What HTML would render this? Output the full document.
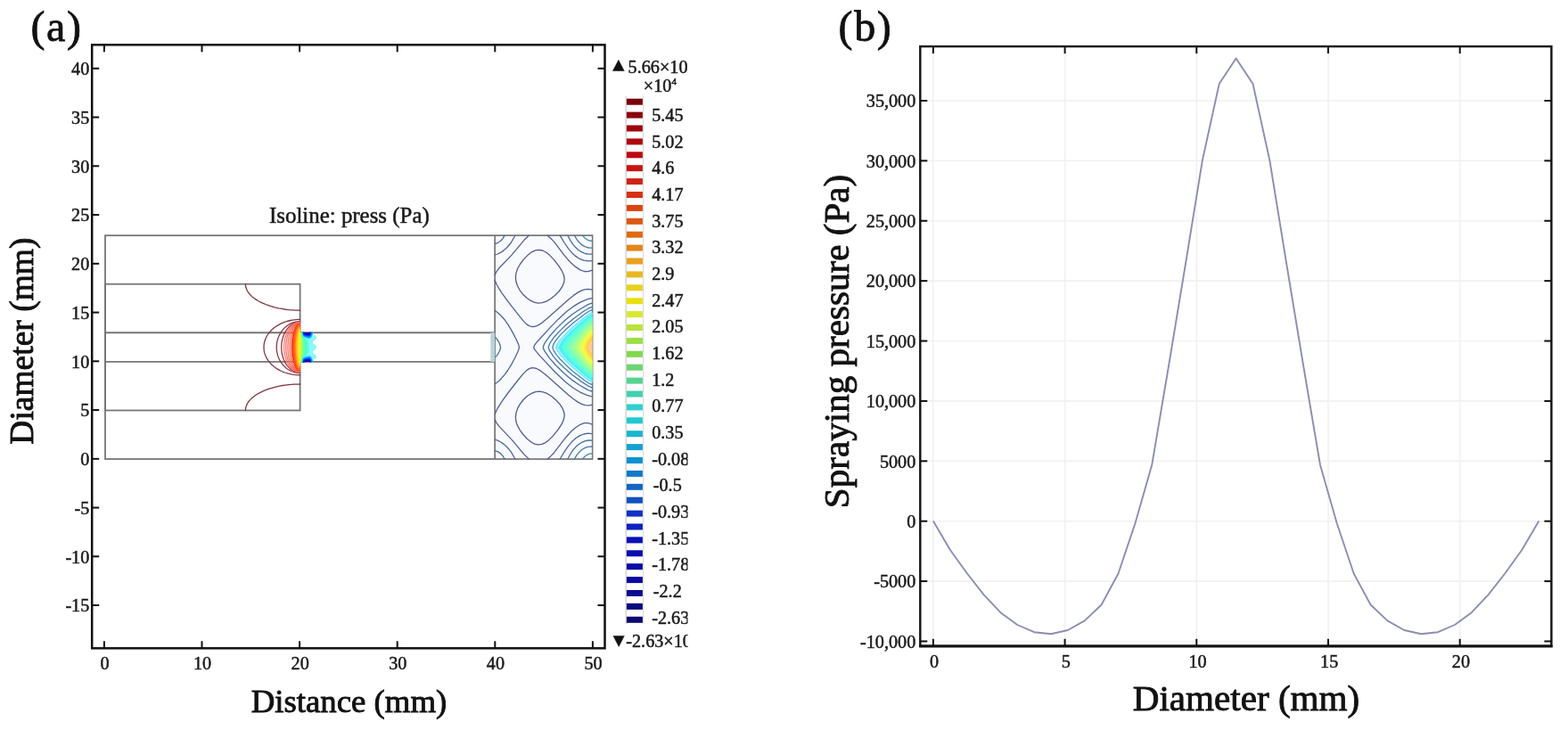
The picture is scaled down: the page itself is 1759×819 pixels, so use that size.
<!DOCTYPE html>
<html><head><meta charset="utf-8"><title>Pressure figure</title>
<style>html,body{margin:0;padding:0;background:#fff;}svg{display:block;}</style></head>
<body><svg width="1759" height="819" viewBox="0 0 1759 819">
<rect width="1759" height="819" fill="#fff"/>
<g stroke="#111" fill="none">
<rect x="103.2" y="50.3" width="575.3" height="677" stroke-width="2.5"/>
<line x1="116.9" y1="727.3" x2="116.9" y2="719.3" stroke-width="2"/>
<line x1="116.9" y1="50.3" x2="116.9" y2="58.3" stroke-width="2"/>
<line x1="226.5" y1="727.3" x2="226.5" y2="719.3" stroke-width="2"/>
<line x1="226.5" y1="50.3" x2="226.5" y2="58.3" stroke-width="2"/>
<line x1="336.1" y1="727.3" x2="336.1" y2="719.3" stroke-width="2"/>
<line x1="336.1" y1="50.3" x2="336.1" y2="58.3" stroke-width="2"/>
<line x1="445.7" y1="727.3" x2="445.7" y2="719.3" stroke-width="2"/>
<line x1="445.7" y1="50.3" x2="445.7" y2="58.3" stroke-width="2"/>
<line x1="555.3" y1="727.3" x2="555.3" y2="719.3" stroke-width="2"/>
<line x1="555.3" y1="50.3" x2="555.3" y2="58.3" stroke-width="2"/>
<line x1="664.9" y1="727.3" x2="664.9" y2="719.3" stroke-width="2"/>
<line x1="664.9" y1="50.3" x2="664.9" y2="58.3" stroke-width="2"/>
<line x1="103.2" y1="679.05" x2="111.2" y2="679.05" stroke-width="2"/>
<line x1="678.5" y1="679.05" x2="670.5" y2="679.05" stroke-width="2"/>
<line x1="103.2" y1="624.3" x2="111.2" y2="624.3" stroke-width="2"/>
<line x1="678.5" y1="624.3" x2="670.5" y2="624.3" stroke-width="2"/>
<line x1="103.2" y1="569.55" x2="111.2" y2="569.55" stroke-width="2"/>
<line x1="678.5" y1="569.55" x2="670.5" y2="569.55" stroke-width="2"/>
<line x1="103.2" y1="514.8" x2="111.2" y2="514.8" stroke-width="2"/>
<line x1="678.5" y1="514.8" x2="670.5" y2="514.8" stroke-width="2"/>
<line x1="103.2" y1="460.05" x2="111.2" y2="460.05" stroke-width="2"/>
<line x1="678.5" y1="460.05" x2="670.5" y2="460.05" stroke-width="2"/>
<line x1="103.2" y1="405.3" x2="111.2" y2="405.3" stroke-width="2"/>
<line x1="678.5" y1="405.3" x2="670.5" y2="405.3" stroke-width="2"/>
<line x1="103.2" y1="350.55" x2="111.2" y2="350.55" stroke-width="2"/>
<line x1="678.5" y1="350.55" x2="670.5" y2="350.55" stroke-width="2"/>
<line x1="103.2" y1="295.8" x2="111.2" y2="295.8" stroke-width="2"/>
<line x1="678.5" y1="295.8" x2="670.5" y2="295.8" stroke-width="2"/>
<line x1="103.2" y1="241.05" x2="111.2" y2="241.05" stroke-width="2"/>
<line x1="678.5" y1="241.05" x2="670.5" y2="241.05" stroke-width="2"/>
<line x1="103.2" y1="186.3" x2="111.2" y2="186.3" stroke-width="2"/>
<line x1="678.5" y1="186.3" x2="670.5" y2="186.3" stroke-width="2"/>
<line x1="103.2" y1="131.55" x2="111.2" y2="131.55" stroke-width="2"/>
<line x1="678.5" y1="131.55" x2="670.5" y2="131.55" stroke-width="2"/>
<line x1="103.2" y1="76.8" x2="111.2" y2="76.8" stroke-width="2"/>
<line x1="678.5" y1="76.8" x2="670.5" y2="76.8" stroke-width="2"/>
</g>
<g font-family="'Liberation Serif','Times New Roman',serif" font-size="20.2" fill="#1a1a1a" stroke="#1a1a1a" stroke-width="0.5">
<text x="117.5" y="750.8" text-anchor="middle">0</text>
<text x="227.1" y="750.8" text-anchor="middle">10</text>
<text x="336.7" y="750.8" text-anchor="middle">20</text>
<text x="446.3" y="750.8" text-anchor="middle">30</text>
<text x="555.9" y="750.8" text-anchor="middle">40</text>
<text x="665.5" y="750.8" text-anchor="middle">50</text>
<text x="100.3" y="686.25" text-anchor="end">-15</text>
<text x="100.3" y="631.5" text-anchor="end">-10</text>
<text x="100.3" y="576.75" text-anchor="end">-5</text>
<text x="100.3" y="522" text-anchor="end">0</text>
<text x="100.3" y="467.25" text-anchor="end">5</text>
<text x="100.3" y="412.5" text-anchor="end">10</text>
<text x="100.3" y="357.75" text-anchor="end">15</text>
<text x="100.3" y="303" text-anchor="end">20</text>
<text x="100.3" y="248.25" text-anchor="end">25</text>
<text x="100.3" y="193.5" text-anchor="end">30</text>
<text x="100.3" y="138.75" text-anchor="end">35</text>
<text x="100.3" y="84" text-anchor="end">40</text>
</g>
<text font-family="'Liberation Serif','Times New Roman',serif" font-size="36.8" x="391.5" y="798.9" text-anchor="middle" fill="#111" stroke="#111" stroke-width="0.9">Distance (mm)</text>
<text font-family="'Liberation Serif','Times New Roman',serif" font-size="37.5" transform="translate(36.8 382.6) rotate(-90)" text-anchor="middle" fill="#111" stroke="#111" stroke-width="0.9">Diameter (mm)</text>
<text font-family="'Liberation Serif','Times New Roman',serif" font-size="48" letter-spacing="1.6" x="34.5" y="46" fill="#111" stroke="#111" stroke-width="0.8">(a)</text>
<text font-family="'Liberation Serif','Times New Roman',serif" font-size="24.9" x="302" y="250" fill="#1a1a1a" stroke="#1a1a1a" stroke-width="0.5">Isoline: press (Pa)</text>
<g stroke="#767676" stroke-width="1.8" fill="none">
<rect x="118" y="264.19" width="546.5" height="250.81"/>
<rect x="118" y="318.71" width="218.6" height="141.76"/>
<line x1="118" y1="373.24" x2="555.2" y2="373.24"/>
<line x1="118" y1="405.95" x2="555.2" y2="405.95"/>
<line x1="555.2" y1="515" x2="555.2" y2="264.19"/>
</g>
<g stroke-linejoin="round" stroke-linecap="round"><rect x="556.1" y="265.1" width="107.5" height="249.0" fill="#f8fafd"/>
<path d="M663.8,428.6 664.5,428.8 664.5,426.3 661.4,424.9 656.6,421.3 642.7,409.0 635.6,402.0 632.2,398.1 629.6,394.6 627.9,391.6 627.4,389.4 628.3,386.8 630.2,383.7 636.4,376.3 643.1,369.7 657.1,357.5 661.4,354.2 664.5,352.8 664.5,350.4 661.4,351.7 657.1,354.8 643.6,365.8 637.4,371.5 631.8,377.2 627.7,382.0 625.1,385.9 623.7,389.4 624.7,392.4 627.1,396.4 631.0,401.2 636.0,406.4 643.1,412.9 656.2,423.7 660.6,427.0 663.8,428.6Z" fill="#99eeff" stroke="#99eeff" stroke-width="0.3" fill-rule="evenodd"/>
<path d="M663.4,426.0 664.5,426.3 664.5,424.1 661.4,422.6 657.5,419.5 643.3,406.4 637.8,400.7 632.7,394.2 631.1,391.1 630.7,389.4 631.5,387.2 633.3,384.1 639.0,377.2 643.8,372.4 657.5,359.7 661.9,356.3 664.5,355.1 664.5,352.8 661.9,354.0 657.9,356.8 639.4,373.2 634.8,378.0 631.2,382.4 628.6,386.3 627.4,389.4 628.1,392.0 630.2,395.5 633.3,399.4 637.7,404.2 643.5,409.8 656.6,421.2 660.6,424.4 663.4,426.0Z" fill="#4bf2f5" stroke="#4bf2f5" stroke-width="0.3" fill-rule="evenodd"/>
<path d="M663.6,423.8 664.5,424.1 664.5,422.1 661.9,420.8 657.6,417.3 644.6,404.6 640.1,399.8 635.6,393.7 634.2,391.1 633.8,389.4 634.6,387.2 636.1,384.6 641.3,378.0 658.1,361.5 661.9,358.4 664.5,357.1 664.5,355.1 661.9,356.3 658.4,358.9 641.5,374.5 637.1,379.3 633.9,383.3 631.7,386.8 630.7,389.4 631.3,391.6 633.3,395.0 639.9,402.9 657.1,419.1 660.7,422.1 663.6,423.8Z" fill="#5cffe5" stroke="#5cffe5" stroke-width="0.3" fill-rule="evenodd"/>
<path d="M663.3,421.7 664.5,422.1 664.5,420.1 661.9,418.8 658.4,415.9 644.1,401.2 638.6,394.2 637.0,391.1 636.6,389.4 638.6,385.0 642.9,379.3 658.0,363.6 661.9,360.4 664.5,359.0 664.5,357.1 661.9,358.4 658.4,361.2 642.9,376.3 636.7,383.7 634.8,386.8 633.8,389.4 634.2,391.1 635.8,394.2 641.7,401.6 657.1,416.9 660.6,419.8 663.3,421.7Z" fill="#6cffd4" stroke="#6cffd4" stroke-width="0.3" fill-rule="evenodd"/>
<path d="M663.8,419.9 664.5,420.1 664.5,418.3 661.9,416.9 657.9,413.4 644.1,398.1 640.5,392.9 639.5,390.7 639.2,389.4 641.0,385.4 644.8,380.2 658.3,365.4 661.9,362.3 664.5,360.9 664.5,359.0 661.9,360.4 658.4,363.3 644.5,377.6 639.2,384.1 637.4,387.2 636.6,389.4 637.0,391.1 638.6,394.2 643.7,400.7 657.6,415.1 661.0,418.2 663.8,419.9Z" fill="#7affc7" stroke="#7affc7" stroke-width="0.3" fill-rule="evenodd"/>
<path d="M664.0,418.2 664.5,418.3 664.5,416.5 661.9,415.1 658.1,411.6 646.4,398.1 642.9,392.9 641.9,390.7 641.6,389.4 643.4,385.4 647.1,380.2 658.4,367.3 661.9,364.1 664.5,362.6 664.5,360.9 662.3,362.0 658.8,364.9 647.0,377.6 641.8,384.1 640.0,387.2 639.2,389.4 639.6,391.1 641.0,393.7 645.9,400.3 657.9,413.4 661.4,416.6 664.0,418.2Z" fill="#8affb6" stroke="#8affb6" stroke-width="0.3" fill-rule="evenodd"/>
<path d="M664.1,416.4 664.5,416.5 664.5,414.8 661.9,413.3 658.4,410.0 648.6,398.1 645.2,392.9 644.2,390.7 643.9,389.4 645.7,385.4 649.9,379.3 658.8,368.7 662.3,365.5 664.5,364.4 664.5,362.6 662.8,363.5 659.9,365.8 652.6,373.7 644.5,383.7 642.7,386.8 641.6,389.4 642.1,391.1 643.4,393.7 648.6,400.7 658.4,411.9 661.4,414.7 664.1,416.4Z" fill="#98ffa8" stroke="#98ffa8" stroke-width="0.3" fill-rule="evenodd"/>
<path d="M664.0,414.7 664.5,414.8 664.5,413.1 662.3,411.9 659.2,409.0 655.4,404.6 650.8,398.5 647.3,392.9 646.1,389.4 648.0,385.0 652.4,378.5 659.7,369.7 662.3,367.3 664.5,366.0 664.5,364.4 662.8,365.2 660.4,367.1 654.1,374.1 646.7,383.7 644.9,386.8 643.9,389.4 644.3,391.1 645.9,394.2 652.0,402.5 659.3,410.9 661.9,413.3 664.0,414.7Z" fill="#a8ff98" stroke="#a8ff98" stroke-width="0.3" fill-rule="evenodd"/>
<path d="M663.9,412.9 664.5,413.1 664.5,411.5 662.3,410.2 659.7,407.7 656.4,403.8 652.6,398.5 649.2,392.9 648.1,389.4 649.9,385.0 653.8,378.9 660.1,371.1 662.8,368.7 664.5,367.7 664.5,366.0 662.8,366.9 660.6,368.8 655.1,375.0 648.5,384.1 646.8,387.2 646.1,389.4 646.5,391.1 648.0,394.2 653.4,402.0 659.6,409.4 661.9,411.6 663.9,412.9Z" fill="#b6ff8a" stroke="#b6ff8a" stroke-width="0.3" fill-rule="evenodd"/>
<path d="M663.8,411.2 664.5,411.5 664.5,409.8 663.2,409.1 661.0,407.2 656.0,401.2 651.6,394.2 650.3,391.1 649.9,389.4 651.4,385.4 654.8,379.8 660.2,372.8 662.8,370.4 664.5,369.4 664.5,367.7 663.2,368.3 661.0,370.2 655.7,376.3 650.4,384.1 648.8,387.2 648.1,389.4 648.5,391.1 649.7,393.7 654.4,401.2 659.7,407.7 661.9,409.8 663.8,411.2Z" fill="#c7ff7a" stroke="#c7ff7a" stroke-width="0.3" fill-rule="evenodd"/>
<path d="M663.7,409.4 664.5,409.8 664.5,408.1 663.2,407.4 661.1,405.5 656.9,400.3 653.0,393.7 652.0,391.1 651.6,389.4 653.0,385.4 655.8,380.7 660.6,374.2 662.8,372.1 664.5,371.1 664.5,369.4 663.2,370.1 661.0,371.9 656.3,377.6 651.9,384.6 649.9,389.4 650.3,391.1 651.4,393.7 655.4,400.3 660.1,406.3 663.7,409.4Z" fill="#d4ff6c" stroke="#d4ff6c" stroke-width="0.3" fill-rule="evenodd"/>
<path d="M663.7,407.7 664.5,408.1 664.5,406.3 663.2,405.6 661.4,404.0 657.6,399.0 654.4,393.3 653.2,389.4 654.4,385.9 656.7,381.5 661.0,375.7 663.1,373.7 664.5,372.9 664.5,371.1 663.2,371.8 661.4,373.3 657.2,378.5 653.5,384.6 651.6,389.4 652.8,393.3 656.0,399.0 660.1,404.4 663.7,407.7Z" fill="#e5ff5c" stroke="#e5ff5c" stroke-width="0.3" fill-rule="evenodd"/>
<path d="M663.8,405.9 664.5,406.3 664.5,404.4 661.9,402.4 658.5,398.1 655.9,393.3 654.8,389.4 655.7,386.3 657.7,382.4 661.4,377.2 663.2,375.5 664.5,374.8 664.5,372.9 663.2,373.6 661.4,375.2 657.9,379.6 654.8,385.0 653.2,389.4 654.2,392.9 657.1,398.2 660.6,403.0 663.8,405.9Z" fill="#f5fd4b" stroke="#f5fd4b" stroke-width="0.3" fill-rule="evenodd"/>
<path d="M664.0,404.2 664.5,404.4 664.5,402.4 662.3,400.7 659.4,396.8 657.1,392.4 656.3,389.4 657.5,385.9 659.7,381.9 662.3,378.4 664.5,376.8 664.5,374.8 661.9,376.8 658.8,380.7 656.1,385.4 654.8,389.4 655.7,392.9 658.3,397.7 661.4,402.0 664.0,404.2Z" fill="#ffed47" stroke="#ffed47" stroke-width="0.3" fill-rule="evenodd"/>
<path d="M663.8,402.0 664.5,402.4 664.5,400.1 662.8,398.8 660.6,395.9 658.8,392.4 658.0,389.4 658.8,386.7 660.6,383.3 662.8,380.4 664.5,379.1 664.5,376.8 662.3,378.4 659.7,381.9 657.5,385.9 656.3,389.4 657.0,392.0 658.8,395.9 661.4,399.7 663.8,402.0Z" fill="#ffda47" stroke="#ffda47" stroke-width="0.3" fill-rule="evenodd"/>
<path d="M664.0,399.8 664.5,400.1 664.5,397.3 663.2,396.3 661.4,393.8 660.2,391.1 659.9,389.4 660.6,387.2 661.9,384.7 663.2,382.9 664.5,381.9 664.5,379.1 662.8,380.4 660.6,383.3 658.8,386.7 658.0,389.4 658.6,392.0 660.1,395.1 662.2,398.1 664.0,399.8Z" fill="#ffca47" stroke="#ffca47" stroke-width="0.3" fill-rule="evenodd"/>
<path d="M664.4,397.2 664.5,392.7 663.2,391.1 662.7,389.4 663.6,387.3 664.5,386.5 664.5,381.9 663.2,382.9 661.9,384.7 660.6,387.2 659.9,389.4 660.2,391.1 661.4,393.8 663.2,396.3 664.4,397.2Z" fill="#ffd396" stroke="#ffd396" stroke-width="0.3" fill-rule="evenodd"/>
<path d="M664.1,392.4 664.5,392.7 664.5,386.5 663.6,387.3 662.7,389.4 663.2,391.1 664.1,392.4Z" fill="#ffcd96" stroke="#ffcd96" stroke-width="0.3" fill-rule="evenodd"/>
<path d="M603.7,498.9 599.8,498.1 595.9,496.0 591.5,492.5 586.9,487.5 583.1,482.3 580.3,477.1 578.8,472.5 578.4,467.9 579.0,463.1 580.8,457.9 583.5,453.1 587.1,448.5 591.6,444.3 596.3,441.3 600.7,439.6 605.0,439.1 609.4,439.8 614.2,441.7 619.0,444.8 623.8,448.9 628.0,453.5 630.9,457.9 632.7,462.2 633.2,466.1 632.4,470.5 630.2,475.7 626.0,482.1 620.3,489.1 615.5,493.9 611.6,496.8 607.7,498.4 603.7,498.9M603.7,340.1 599.4,339.2 595.0,337.2 590.6,334.0 586.2,329.7 582.9,325.3 580.4,320.5 578.9,315.7 578.4,310.9 579.0,306.1 580.7,301.3 583.7,296.0 588.0,290.4 592.4,285.9 596.7,282.6 600.7,280.8 604.6,280.3 608.5,281.0 612.5,283.0 616.4,286.1 621.2,291.1 626.5,297.8 630.4,303.9 632.6,309.1 633.2,313.5 632.4,317.8 630.4,322.2 627.0,327.0 622.5,331.5 617.7,335.3 612.9,338.1 608.1,339.7 603.7,340.1" stroke="#525a94" stroke-width="1.3" fill="none"/>
<path d="M593.3,515.0 588.0,509.9 574.0,493.1 559.9,478.4 556.9,474.4 555.2,470.8M664.5,476.1 659.7,474.6 655.3,474.7 650.9,476.3 645.7,479.7 641.3,483.5 637.1,488.0 632.6,493.3 621.7,507.7 617.7,511.9 614.0,515.0M555.2,464.8 557.6,459.2 562.7,450.9 570.5,440.0 581.9,425.5 587.1,419.1 590.6,415.6 593.7,413.6 596.7,412.7 599.4,412.8 602.0,413.5 605.0,415.1 608.1,417.2 614.2,422.3 637.8,443.2 643.5,447.7 648.3,451.1 652.7,453.4 656.6,454.6 660.6,454.8 664.5,454.1M664.5,325.1 660.6,324.4 656.6,324.6 652.7,325.8 648.3,328.1 643.5,331.4 637.8,336.0 614.2,356.9 608.1,362.0 605.0,364.1 602.0,365.6 599.4,366.4 596.7,366.5 593.7,365.6 590.6,363.6 587.1,360.1 581.9,353.7 570.5,339.2 562.7,328.3 557.6,320.0 555.2,314.4M555.2,308.4 556.9,304.8 559.9,300.8 574.0,286.1 588.0,269.3 593.3,264.2M614.0,264.2 617.7,267.2 621.7,271.4 632.6,285.9 637.1,291.2 641.3,295.6 645.7,299.4 650.9,302.9 655.3,304.5 659.7,304.6 664.5,303.1" stroke="#526094" stroke-width="1.3" fill="none"/>
<path d="M577.9,515.0 573.4,507.1 570.7,503.7 567.9,500.7 564.8,498.1 561.8,496.0 558.3,494.2 555.2,493.2M664.5,486.6 659.7,486.2 654.9,487.0 650.1,488.9 645.7,491.8 641.4,495.8 637.4,500.6 633.2,506.7 628.2,515.0M555.2,430.7 558.7,428.2 562.4,424.7 566.1,420.4 569.6,415.5 573.6,409.1 577.8,401.2 581.3,393.7 582.5,389.8 581.8,386.8 579.1,380.7 574.1,371.1 569.9,364.1 566.2,358.8 562.6,354.7 558.7,351.0 555.2,348.5M664.5,334.6 661.9,334.9 658.4,335.9 650.5,339.4 643.1,343.9 635.6,349.6 626.5,357.9 617.5,367.1 602.3,383.7 599.7,387.2 598.8,389.4 599.0,390.7 600.3,392.9 605.8,399.4 623.0,417.8 635.2,429.2 643.1,435.3 650.5,439.8 658.4,443.3 661.9,444.3 664.5,444.6M555.2,286.0 558.3,285.0 561.8,283.2 564.8,281.1 567.9,278.5 570.7,275.5 573.4,272.0 577.9,264.2M628.2,264.2 633.2,272.5 637.4,278.6 641.4,283.4 645.7,287.4 650.1,290.3 654.9,292.2 659.7,292.9 664.5,292.6" stroke="#4d669b" stroke-width="1.3" fill="none"/>
<path d="M566.1,515.0 564.0,511.5 561.6,508.9 558.7,506.9 555.2,505.6M664.5,494.1 660.6,494.0 656.6,494.7 652.7,496.3 649.2,498.5 645.7,501.6 642.5,505.4 639.6,509.8 636.9,515.0M555.2,401.1 557.4,398.9 559.1,396.3 560.6,393.3 561.6,389.8 560.9,386.8 559.4,383.3 557.4,380.3 555.2,378.1M664.5,340.2 662.3,340.7 659.3,341.9 650.1,347.2 642.2,352.5 633.9,359.3 624.7,368.1 617.0,376.7 611.6,384.1 610.0,387.2 609.3,389.4 609.6,391.1 611.1,394.2 616.3,401.6 624.0,410.3 633.5,419.5 641.8,426.4 649.6,431.8 658.8,437.1 662.3,438.5 664.5,439.0M555.2,273.6 558.7,272.3 561.6,270.3 564.0,267.7 566.1,264.2M636.9,264.2 639.6,269.4 642.5,273.8 645.7,277.6 649.2,280.7 652.7,282.9 656.6,284.5 660.6,285.2 664.5,285.1" stroke="#476ea2" stroke-width="1.3" fill="none"/>
<path d="M664.5,501.0 661.4,501.1 658.4,501.7 655.8,502.7 653.1,504.3 650.5,506.5 648.3,508.9 646.2,511.9 644.6,515.0M664.5,344.3 660.6,345.7 654.0,349.8 643.1,357.7 634.3,365.1 626.8,372.4 621.2,378.7 617.0,385.0 615.2,389.4 615.6,391.1 616.7,393.7 620.8,399.8 626.0,406.0 633.5,413.3 642.2,420.8 653.0,428.6 660.1,433.2 662.8,434.5 664.5,434.9M644.6,264.2 646.2,267.2 648.3,270.3 650.5,272.7 653.1,274.9 655.8,276.4 658.4,277.5 661.4,278.1 664.5,278.2" stroke="#427aa9" stroke-width="1.3" fill="none"/>
<path d="M664.5,508.9 661.4,509.2 658.4,510.4 655.8,512.3 653.5,515.0M664.5,347.6 661.0,349.0 656.1,352.3 643.1,362.3 635.2,369.3 629.0,375.4 624.5,380.7 621.3,385.4 619.8,389.4 620.9,392.9 623.9,397.7 628.6,403.3 634.7,409.4 643.1,416.9 655.8,426.7 661.0,430.2 664.5,431.6M653.5,264.2 655.8,266.9 658.4,268.8 661.4,270.0 664.5,270.3" stroke="#3d87b0" stroke-width="1.3" fill="none"/>
<path d="M664.5,350.4 661.4,351.7 657.1,354.8 643.6,365.8 637.4,371.5 631.8,377.2 627.7,382.0 625.1,385.9 623.7,389.4 624.7,392.4 627.4,396.8 631.4,401.6 636.5,406.9 643.5,413.3 657.1,424.4 661.4,427.5 664.5,428.8" stroke="#26dbff" stroke-width="0.9" fill="none" opacity="0.8"/>
<path d="M664.5,352.8 661.9,354.0 657.9,356.8 639.4,373.2 634.8,378.0 631.2,382.4 628.6,386.3 627.4,389.4 628.1,392.0 630.5,395.9 634.0,400.3 638.6,405.1 644.0,410.2 657.6,422.1 661.9,425.2 664.5,426.3" stroke="#2beff3" stroke-width="0.9" fill="none" opacity="0.8"/>
<path d="M664.5,355.1 661.9,356.3 658.4,358.9 641.5,374.5 637.1,379.3 633.9,383.3 631.7,386.8 630.7,389.4 631.5,392.0 633.6,395.5 636.7,399.4 640.7,403.8 658.0,419.9 661.9,422.9 664.5,424.1" stroke="#3effe0" stroke-width="0.9" fill="none" opacity="0.8"/>
<path d="M664.5,357.1 661.9,358.4 658.4,361.2 642.9,376.3 636.7,383.7 634.8,386.8 633.8,389.4 634.4,391.6 636.1,394.6 638.7,398.1 642.5,402.5 658.4,418.0 661.9,420.8 664.5,422.1" stroke="#51ffcd" stroke-width="0.9" fill="none" opacity="0.8"/>
<path d="M664.5,359.0 661.9,360.4 658.4,363.3 644.5,377.6 639.2,384.1 637.4,387.2 636.6,389.4 637.0,391.1 638.6,394.2 644.1,401.2 658.4,415.9 661.9,418.8 664.5,420.1" stroke="#62ffbc" stroke-width="0.9" fill="none" opacity="0.8"/>
<path d="M664.5,360.9 662.3,362.0 658.8,364.9 647.0,377.6 641.8,384.1 640.0,387.2 639.2,389.4 639.6,391.1 641.2,394.2 646.3,400.7 658.4,413.9 661.9,416.9 664.5,418.3" stroke="#75ffa9" stroke-width="0.9" fill="none" opacity="0.8"/>
<path d="M664.5,362.6 662.8,363.5 659.9,365.8 652.6,373.7 644.5,383.7 642.7,386.8 641.6,389.4 642.1,391.1 643.7,394.2 649.6,402.0 659.3,412.8 662.3,415.4 664.5,416.5" stroke="#86ff99" stroke-width="0.9" fill="none" opacity="0.8"/>
<path d="M664.5,364.4 662.8,365.2 660.4,367.1 654.1,374.1 646.7,383.7 644.9,386.8 643.9,389.4 644.5,391.6 646.2,394.6 653.4,404.2 660.1,411.8 662.8,414.0 664.5,414.8" stroke="#99ff86" stroke-width="0.9" fill="none" opacity="0.8"/>
<path d="M664.5,366.0 662.8,366.9 660.6,368.8 655.1,375.0 648.5,384.1 646.8,387.2 646.1,389.4 646.7,391.6 648.3,394.6 654.4,403.3 660.5,410.3 662.8,412.2 664.5,413.1" stroke="#a9ff75" stroke-width="0.9" fill="none" opacity="0.8"/>
<path d="M664.5,367.7 663.2,368.3 661.0,370.2 655.7,376.3 650.4,384.1 648.8,387.2 648.1,389.4 648.5,391.1 649.9,394.2 655.0,402.0 660.6,408.6 662.8,410.5 664.5,411.5" stroke="#bcff62" stroke-width="0.9" fill="none" opacity="0.8"/>
<path d="M664.5,369.4 663.2,370.1 661.0,371.9 656.3,377.6 651.9,384.6 649.9,389.4 650.3,391.1 651.6,394.2 656.0,401.2 661.0,407.2 663.2,409.1 664.5,409.8" stroke="#cdff51" stroke-width="0.9" fill="none" opacity="0.8"/>
<path d="M664.5,371.1 663.2,371.8 661.4,373.3 657.2,378.5 653.5,384.6 651.6,389.4 652.0,391.1 653.0,393.7 656.9,400.3 661.1,405.5 663.2,407.4 664.5,408.1" stroke="#e0ff3e" stroke-width="0.9" fill="none" opacity="0.8"/>
<path d="M664.5,372.9 663.2,373.6 661.4,375.2 657.9,379.6 654.8,385.0 653.2,389.4 654.4,393.3 657.6,399.0 661.4,404.0 663.2,405.6 664.5,406.3" stroke="#f3fc2b" stroke-width="0.9" fill="none" opacity="0.8"/>
<path d="M664.5,374.8 661.9,376.8 658.8,380.7 656.1,385.4 654.8,389.4 655.9,393.3 658.5,398.1 661.9,402.4 664.5,404.4" stroke="#ffea26" stroke-width="0.9" fill="none" opacity="0.8"/>
<path d="M664.5,376.8 662.3,378.4 659.7,381.9 657.5,385.9 656.3,389.4 657.1,392.4 659.4,396.8 662.3,400.7 664.5,402.4" stroke="#ffdb4c" stroke-width="0.8" fill="none" opacity="0.5"/>
<path d="M664.5,379.1 662.8,380.4 660.6,383.3 658.8,386.7 658.0,389.4 658.8,392.4 660.6,395.9 662.8,398.8 664.5,400.1" stroke="#ffcc4c" stroke-width="0.8" fill="none" opacity="0.5"/>
<path d="M664.5,381.9 663.2,382.9 661.9,384.7 660.6,387.2 659.9,389.4 660.2,391.1 661.4,393.8 663.2,396.3 664.5,397.3" stroke="#ffba4c" stroke-width="0.8" fill="none" opacity="0.5"/>
<path d="M664.5,386.5 663.6,387.3 662.7,389.4 663.2,391.1 664.5,392.7" stroke="#ffaa4c" stroke-width="0.8" fill="none" opacity="0.5"/>
<path d="M336.6,417.2 336.1,417.1 335.5,417.0 335.0,416.8 334.5,416.6 334.0,416.2 333.4,415.8 332.9,415.3 332.4,414.7 332.0,414.1 331.5,413.4 331.0,412.6 330.6,411.7 330.2,410.8 329.8,409.9 329.4,408.8 329.0,407.8 328.7,406.6 328.4,405.5 328.1,404.2 327.8,403.0 327.6,401.7 327.3,400.3 327.1,399.0 327.0,397.6 326.8,396.1 326.7,394.7 326.6,393.3 326.6,391.8 326.5,390.3 326.5,388.9 326.6,387.4 326.6,385.9 326.7,384.5 326.8,383.0 327.0,381.6 327.1,380.2 327.3,378.9 327.6,377.5 327.8,376.2 328.1,375.0 328.4,373.7 328.7,372.6 329.0,371.4 329.4,370.3 329.8,369.3 330.2,368.4 330.6,367.4 331.0,366.6 331.5,365.8 332.0,365.1 332.4,364.5 332.9,363.9 333.4,363.4 334.0,363.0 334.5,362.6 335.0,362.4 335.5,362.2 336.1,362.0 336.6,362.0Z" fill="#ff3c1f" stroke="none"/>
<path d="M336.6,416.3 336.2,416.3 335.7,416.2 335.3,416.0 334.9,415.7 334.5,415.4 334.1,415.0 333.7,414.5 333.3,413.9 332.9,413.3 332.5,412.6 332.1,411.9 331.8,411.0 331.4,410.2 331.1,409.2 330.8,408.2 330.5,407.2 330.2,406.1 330.0,404.9 329.7,403.8 329.5,402.5 329.3,401.3 329.1,400.0 329.0,398.7 328.9,397.3 328.7,395.9 328.7,394.5 328.6,393.1 328.5,391.7 328.5,390.3 328.5,388.9 328.5,387.5 328.6,386.0 328.7,384.6 328.7,383.3 328.9,381.9 329.0,380.5 329.1,379.2 329.3,377.9 329.5,376.6 329.7,375.4 330.0,374.2 330.2,373.1 330.5,372.0 330.8,371.0 331.1,370.0 331.4,369.0 331.8,368.1 332.1,367.3 332.5,366.6 332.9,365.9 333.3,365.3 333.7,364.7 334.1,364.2 334.5,363.8 334.9,363.5 335.3,363.2 335.7,363.0 336.2,362.9 336.6,362.9Z" fill="#ff531f" stroke="none"/>
<path d="M336.6,414.7 336.3,414.6 335.9,414.5 335.6,414.4 335.3,414.1 334.9,413.8 334.6,413.4 334.3,413.0 334.0,412.4 333.7,411.8 333.4,411.2 333.1,410.5 332.8,409.7 332.6,408.9 332.3,408.0 332.1,407.1 331.8,406.1 331.6,405.1 331.4,404.0 331.2,402.9 331.1,401.7 330.9,400.6 330.8,399.3 330.6,398.1 330.5,396.8 330.4,395.5 330.4,394.2 330.3,392.9 330.3,391.6 330.3,390.3 330.3,388.9 330.3,387.6 330.3,386.3 330.4,384.9 330.4,383.6 330.5,382.4 330.6,381.1 330.8,379.8 330.9,378.6 331.1,377.4 331.2,376.3 331.4,375.2 331.6,374.1 331.8,373.1 332.1,372.1 332.3,371.2 332.6,370.3 332.8,369.5 333.1,368.7 333.4,368.0 333.7,367.3 334.0,366.8 334.3,366.2 334.6,365.8 334.9,365.4 335.3,365.1 335.6,364.8 335.9,364.7 336.3,364.5 336.6,364.5Z" fill="#ff7d1f" stroke="none"/>
<path d="M336.6,412.7 336.3,412.7 336.1,412.6 335.8,412.4 335.6,412.2 335.3,411.9 335.1,411.5 334.8,411.1 334.6,410.6 334.4,410.1 334.2,409.5 333.9,408.9 333.7,408.2 333.5,407.4 333.3,406.6 333.2,405.7 333.0,404.8 332.8,403.9 332.7,402.9 332.5,401.9 332.4,400.8 332.3,399.7 332.2,398.6 332.1,397.4 332.0,396.3 331.9,395.1 331.9,393.9 331.8,392.7 331.8,391.4 331.8,390.2 331.8,389.0 331.8,387.7 331.8,386.5 331.9,385.3 331.9,384.1 332.0,382.9 332.1,381.7 332.2,380.6 332.3,379.5 332.4,378.4 332.5,377.3 332.7,376.3 332.8,375.3 333.0,374.4 333.2,373.5 333.3,372.6 333.5,371.8 333.7,371.0 333.9,370.3 334.2,369.7 334.4,369.1 334.6,368.5 334.8,368.1 335.1,367.6 335.3,367.3 335.6,367.0 335.8,366.8 336.1,366.6 336.3,366.5 336.6,366.5Z" fill="#ffa81f" stroke="none"/>
<path d="M336.6,410.9 336.4,410.8 336.2,410.7 336.1,410.6 335.9,410.4 335.7,410.1 335.5,409.8 335.4,409.4 335.2,409.0 335.0,408.5 334.9,407.9 334.7,407.3 334.6,406.7 334.4,406.0 334.3,405.2 334.2,404.4 334.1,403.6 333.9,402.7 333.8,401.8 333.7,400.9 333.6,399.9 333.6,398.9 333.5,397.9 333.4,396.8 333.4,395.7 333.3,394.6 333.3,393.5 333.2,392.4 333.2,391.3 333.2,390.2 333.2,389.0 333.2,387.9 333.2,386.8 333.3,385.7 333.3,384.5 333.4,383.5 333.4,382.4 333.5,381.3 333.6,380.3 333.6,379.3 333.7,378.3 333.8,377.4 333.9,376.5 334.1,375.6 334.2,374.8 334.3,374.0 334.4,373.2 334.6,372.5 334.7,371.9 334.9,371.3 335.0,370.7 335.2,370.2 335.4,369.8 335.5,369.4 335.7,369.1 335.9,368.8 336.1,368.6 336.2,368.4 336.4,368.4 336.6,368.3Z" fill="#ffd21f" stroke="none"/>
<path d="M336.6,409.2 336.5,409.2 336.4,409.1 336.3,409.0 336.2,408.8 336.1,408.5 335.9,408.2 335.8,407.9 335.7,407.5 335.6,407.0 335.5,406.5 335.5,405.9 335.4,405.3 335.3,404.7 335.2,404.0 335.1,403.3 335.0,402.5 335.0,401.7 334.9,400.9 334.8,400.0 334.8,399.1 334.7,398.2 334.7,397.2 334.6,396.3 334.6,395.3 334.6,394.3 334.6,393.2 334.5,392.2 334.5,391.2 334.5,390.1 334.5,389.1 334.5,388.0 334.5,387.0 334.6,386.0 334.6,384.9 334.6,383.9 334.6,382.9 334.7,382.0 334.7,381.0 334.8,380.1 334.8,379.2 334.9,378.3 335.0,377.5 335.0,376.7 335.1,375.9 335.2,375.2 335.3,374.5 335.4,373.8 335.5,373.2 335.5,372.7 335.6,372.2 335.7,371.7 335.8,371.3 335.9,371.0 336.1,370.7 336.2,370.4 336.3,370.2 336.4,370.1 336.5,370.0 336.6,370.0Z" fill="#ffe91f" stroke="none"/>
<path d="M336.6,408.1 336.5,408.1 336.5,408.0 336.4,407.9 336.4,407.7 336.3,407.5 336.3,407.2 336.2,406.9 336.2,406.5 336.1,406.0 336.1,405.6 336.1,405.0 336.0,404.5 336.0,403.9 335.9,403.2 335.9,402.5 335.9,401.8 335.8,401.0 335.8,400.2 335.8,399.4 335.7,398.6 335.7,397.7 335.7,396.8 335.7,395.9 335.7,394.9 335.6,394.0 335.6,393.0 335.6,392.1 335.6,391.1 335.6,390.1 335.6,389.1 335.6,388.1 335.6,387.1 335.6,386.2 335.6,385.2 335.7,384.2 335.7,383.3 335.7,382.4 335.7,381.5 335.7,380.6 335.8,379.8 335.8,378.9 335.8,378.1 335.9,377.4 335.9,376.7 335.9,376.0 336.0,375.3 336.0,374.7 336.1,374.1 336.1,373.6 336.1,373.1 336.2,372.7 336.2,372.3 336.3,372.0 336.3,371.7 336.4,371.5 336.4,371.3 336.5,371.2 336.5,371.1 336.6,371.1Z" fill="#f3fc24" stroke="none"/>
<path d="M336.6,420.8 334.4,420.7 332.3,420.6 330.1,420.4 328.0,420.1 325.9,419.7 323.8,419.2 321.8,418.6 319.8,418.0 317.9,417.3 316.0,416.5 314.1,415.6 312.4,414.6 310.6,413.6 309.0,412.5 307.5,411.4 306.0,410.1 304.6,408.9 303.3,407.5 302.1,406.1 301.0,404.7 300.0,403.2 299.1,401.7 298.4,400.2 297.7,398.6 297.1,397.0 296.6,395.4 296.3,393.7 296.1,392.1 296.0,390.4 296.0,388.8 296.1,387.1 296.3,385.5 296.6,383.8 297.1,382.2 297.7,380.6 298.4,379.0 299.1,377.5 300.0,376.0 301.0,374.5 302.1,373.0 303.3,371.7 304.6,370.3 306.0,369.1 307.5,367.8 309.0,366.7 310.6,365.6 312.4,364.6 314.1,363.6 316.0,362.7 317.9,361.9 319.8,361.2 321.8,360.5 323.8,360.0 325.9,359.5 328.0,359.1 330.1,358.8 332.3,358.6 334.4,358.4 336.6,358.4" stroke="#7d3c47" stroke-width="1.3" fill="none"/>
<path d="M336.6,418.5 335.2,418.4 333.8,418.3 332.4,418.1 331.0,417.8 329.7,417.5 328.3,417.0 327.0,416.5 325.7,415.9 324.5,415.2 323.2,414.5 322.0,413.7 320.9,412.8 319.8,411.8 318.7,410.8 317.7,409.8 316.8,408.6 315.9,407.4 315.0,406.2 314.3,404.9 313.6,403.6 312.9,402.2 312.3,400.8 311.8,399.4 311.4,397.9 311.0,396.5 310.7,394.9 310.5,393.4 310.3,391.9 310.3,390.4 310.3,388.8 310.3,387.3 310.5,385.8 310.7,384.2 311.0,382.7 311.4,381.2 311.8,379.8 312.3,378.4 312.9,377.0 313.6,375.6 314.3,374.3 315.0,373.0 315.9,371.7 316.8,370.6 317.7,369.4 318.7,368.4 319.8,367.3 320.9,366.4 322.0,365.5 323.2,364.7 324.5,363.9 325.7,363.3 327.0,362.7 328.3,362.2 329.7,361.7 331.0,361.3 332.4,361.1 333.8,360.9 335.2,360.7 336.6,360.7" stroke="#8e3741" stroke-width="1.3" fill="none"/>
<path d="M336.6,417.9 335.5,417.9 334.4,417.8 333.3,417.6 332.2,417.3 331.1,416.9 330.0,416.5 329.0,416.0 328.0,415.4 327.0,414.8 326.0,414.0 325.1,413.2 324.2,412.4 323.3,411.4 322.4,410.4 321.6,409.4 320.9,408.3 320.2,407.1 319.5,405.9 318.9,404.6 318.3,403.3 317.8,402.0 317.4,400.6 317.0,399.2 316.6,397.8 316.3,396.3 316.1,394.8 315.9,393.4 315.8,391.9 315.7,390.3 315.7,388.8 315.8,387.3 315.9,385.8 316.1,384.3 316.3,382.9 316.6,381.4 317.0,380.0 317.4,378.6 317.8,377.2 318.3,375.9 318.9,374.6 319.5,373.3 320.2,372.1 320.9,370.9 321.6,369.8 322.4,368.8 323.3,367.8 324.2,366.8 325.1,366.0 326.0,365.2 327.0,364.4 328.0,363.8 329.0,363.2 330.0,362.7 331.1,362.2 332.2,361.9 333.3,361.6 334.4,361.4 335.5,361.3 336.6,361.2" stroke="#9f323b" stroke-width="1.3" fill="none"/>
<path d="M336.6,417.7 335.6,417.7 334.7,417.6 333.7,417.4 332.8,417.1 331.9,416.7 330.9,416.3 330.0,415.8 329.1,415.2 328.3,414.6 327.4,413.8 326.6,413.0 325.8,412.2 325.1,411.3 324.4,410.3 323.7,409.2 323.0,408.1 322.4,407.0 321.8,405.8 321.3,404.5 320.8,403.2 320.4,401.9 320.0,400.5 319.6,399.1 319.3,397.7 319.1,396.3 318.9,394.8 318.7,393.3 318.6,391.8 318.6,390.3 318.6,388.8 318.6,387.3 318.7,385.9 318.9,384.4 319.1,382.9 319.3,381.5 319.6,380.0 320.0,378.7 320.4,377.3 320.8,376.0 321.3,374.7 321.8,373.4 322.4,372.2 323.0,371.1 323.7,370.0 324.4,368.9 325.1,367.9 325.8,367.0 326.6,366.1 327.4,365.4 328.3,364.6 329.1,364.0 330.0,363.4 330.9,362.9 331.9,362.4 332.8,362.1 333.7,361.8 334.7,361.6 335.6,361.5 336.6,361.5" stroke="#fa7973" stroke-width="1.3" fill="none"/>
<path d="M336.6,417.5 335.8,417.5 334.9,417.4 334.1,417.2 333.2,416.9 332.4,416.5 331.6,416.1 330.8,415.6 330.1,415.0 329.3,414.4 328.6,413.6 327.8,412.9 327.1,412.0 326.5,411.1 325.8,410.1 325.2,409.1 324.7,408.0 324.1,406.8 323.6,405.6 323.2,404.4 322.7,403.1 322.3,401.8 322.0,400.4 321.7,399.1 321.4,397.7 321.2,396.2 321.0,394.8 320.9,393.3 320.8,391.8 320.8,390.3 320.8,388.8 320.8,387.4 320.9,385.9 321.0,384.4 321.2,383.0 321.4,381.5 321.7,380.1 322.0,378.7 322.3,377.4 322.7,376.1 323.2,374.8 323.6,373.5 324.1,372.4 324.7,371.2 325.2,370.1 325.8,369.1 326.5,368.1 327.1,367.2 327.8,366.3 328.6,365.5 329.3,364.8 330.1,364.2 330.8,363.6 331.6,363.1 332.4,362.7 333.2,362.3 334.1,362.0 334.9,361.8 335.8,361.7 336.6,361.7" stroke="#f96d66" stroke-width="1.3" fill="none"/>
<path d="M336.6,417.4 335.9,417.4 335.1,417.2 334.4,417.0 333.7,416.8 333.0,416.4 332.3,416.0 331.6,415.5 331.0,414.9 330.3,414.3 329.7,413.6 329.0,412.8 328.5,411.9 327.9,411.0 327.3,410.0 326.8,409.0 326.3,407.9 325.9,406.8 325.4,405.6 325.0,404.3 324.6,403.1 324.3,401.8 324.0,400.4 323.7,399.0 323.5,397.6 323.3,396.2 323.2,394.7 323.1,393.3 323.0,391.8 322.9,390.3 322.9,388.9 323.0,387.4 323.1,385.9 323.2,384.4 323.3,383.0 323.5,381.6 323.7,380.2 324.0,378.8 324.3,377.4 324.6,376.1 325.0,374.8 325.4,373.6 325.9,372.4 326.3,371.3 326.8,370.2 327.3,369.2 327.9,368.2 328.5,367.3 329.0,366.4 329.7,365.6 330.3,364.9 331.0,364.3 331.6,363.7 332.3,363.2 333.0,362.8 333.7,362.4 334.4,362.1 335.1,361.9 335.9,361.8 336.6,361.8" stroke="#ff6f59" stroke-width="1.3" fill="none"/>
<path d="M336.6,417.3 336.0,417.3 335.4,417.1 334.8,416.9 334.2,416.7 333.6,416.3 333.0,415.9 332.4,415.4 331.9,414.8 331.3,414.2 330.8,413.5 330.3,412.7 329.8,411.8 329.3,410.9 328.8,409.9 328.4,408.9 328.0,407.8 327.6,406.7 327.2,405.5 326.9,404.3 326.6,403.0 326.3,401.7 326.0,400.4 325.8,399.0 325.6,397.6 325.5,396.2 325.3,394.7 325.2,393.3 325.2,391.8 325.1,390.3 325.1,388.9 325.2,387.4 325.2,385.9 325.3,384.5 325.5,383.0 325.6,381.6 325.8,380.2 326.0,378.8 326.3,377.5 326.6,376.2 326.9,374.9 327.2,373.7 327.6,372.5 328.0,371.4 328.4,370.3 328.8,369.2 329.3,368.3 329.8,367.4 330.3,366.5 330.8,365.7 331.3,365.0 331.9,364.4 332.4,363.8 333.0,363.3 333.6,362.9 334.2,362.5 334.8,362.2 335.4,362.1 336.0,361.9 336.6,361.9" stroke="#ff644c" stroke-width="1.3" fill="none"/>
<path d="M275.4,318.7 275.4,319.9 275.6,321.1 275.8,322.3 276.2,323.4 276.6,324.6 277.2,325.8 277.8,326.9 278.5,328.0 279.4,329.2 280.3,330.3 281.3,331.3 282.4,332.4 283.6,333.4 284.9,334.4 286.2,335.4 287.7,336.4 289.2,337.3 290.8,338.2 292.5,339.1 294.2,339.9 296.0,340.7 297.9,341.5 299.8,342.2 301.8,342.9 303.9,343.6 306.0,344.2 308.2,344.8 310.4,345.3 312.6,345.8 314.9,346.2 317.2,346.6 319.6,347.0 322.0,347.3 324.4,347.6 326.8,347.8 329.2,347.9 331.7,348.1 334.1,348.1 336.6,348.2" stroke="#7f3741" stroke-width="1.3" fill="none"/>
<path d="M275.4,460.5 275.4,459.3 275.6,458.1 275.8,456.9 276.2,455.8 276.6,454.6 277.2,453.4 277.8,452.3 278.5,451.2 279.4,450.0 280.3,448.9 281.3,447.9 282.4,446.8 283.6,445.8 284.9,444.7 286.2,443.7 287.7,442.8 289.2,441.9 290.8,441.0 292.5,440.1 294.2,439.2 296.0,438.4 297.9,437.7 299.8,436.9 301.8,436.2 303.9,435.6 306.0,435.0 308.2,434.4 310.4,433.9 312.6,433.4 314.9,432.9 317.2,432.5 319.6,432.2 322.0,431.9 324.4,431.6 326.8,431.4 329.2,431.2 331.7,431.1 334.1,431.1 336.6,431.0" stroke="#7f3741" stroke-width="1.3" fill="none"/>
<path d="M342.5,405.9 347.5,405.9 347.0,404.9 345.8,404.5 343.4,405.1 342.5,405.9ZM344.8,374.5 346.8,374.5 347.3,374.0 347.5,373.2 342.5,373.2 343.1,374.0 344.8,374.5Z" fill="#14148a" stroke="#14148a" stroke-width="0.3" fill-rule="evenodd"/>
<path d="M341.4,405.9 342.5,405.9 343.4,405.1 345.8,404.5 346.9,404.8 347.5,405.9 347.8,405.9 347.3,404.5 345.9,404.1 342.6,404.8 341.7,405.3 341.4,405.9ZM345.4,375.1 347.2,374.8 347.8,373.2 347.5,373.2 346.9,374.4 345.8,374.6 343.4,374.1 342.5,373.2 341.4,373.2 341.7,373.9 342.4,374.4 345.4,375.1Z" fill="#1414a3" stroke="#1414a3" stroke-width="0.3" fill-rule="evenodd"/>
<path d="M340.8,405.9 341.4,405.9 341.8,405.2 342.8,404.6 345.9,404.1 347.2,404.4 347.8,405.9 348.1,405.9 347.5,404.2 345.9,403.7 342.0,404.5 341.1,405.1 340.8,405.9ZM344.8,375.4 346.3,375.5 347.3,375.2 347.9,374.4 348.1,373.2 347.8,373.2 347.2,374.8 345.9,375.1 342.8,374.5 341.8,374.0 341.4,373.2 340.8,373.2 341.0,374.0 341.6,374.5 344.8,375.4Z" fill="#1414c0" stroke="#1414c0" stroke-width="0.3" fill-rule="evenodd"/>
<path d="M340.4,405.9 340.8,405.9 341.1,405.1 342.1,404.4 345.9,403.7 347.4,404.1 347.9,404.9 348.1,405.9 348.3,405.9 347.7,404.0 347.1,403.5 346.0,403.3 341.5,404.2 340.6,404.9 340.4,405.9ZM345.5,375.9 346.8,375.8 347.6,375.3 348.2,374.4 348.3,373.2 348.1,373.2 347.9,374.3 347.4,375.1 345.9,375.5 342.1,374.8 341.1,374.1 340.8,373.2 340.4,373.2 340.6,374.2 341.4,374.9 345.5,375.9Z" fill="#1414d9" stroke="#1414d9" stroke-width="0.3" fill-rule="evenodd"/>
<path d="M340.1,405.9 340.4,405.9 340.8,404.8 341.6,404.2 346.0,403.3 347.6,403.8 348.6,405.9 348.4,404.6 347.9,403.6 347.1,403.1 346.0,403.0 341.3,403.9 340.4,404.6 340.1,405.9ZM345.3,376.2 346.8,376.2 347.7,375.7 348.4,374.7 348.6,373.2 347.6,375.3 346.0,375.9 341.6,375.0 340.8,374.4 340.4,373.2 340.1,373.2 340.4,374.4 341.1,375.2 345.3,376.2Z" fill="#1414f6" stroke="#1414f6" stroke-width="0.3" fill-rule="evenodd"/>
<path d="M339.9,405.9 340.5,404.5 341.3,403.9 346.0,403.0 347.1,403.1 347.9,403.6 348.8,405.9 348.6,404.5 348.1,403.4 347.3,402.8 346.1,402.6 343.3,403.0 341.1,403.6 340.2,404.5 339.9,405.9ZM345.2,376.5 346.9,376.5 347.9,376.0 348.5,374.9 348.8,373.2 347.9,375.6 347.1,376.1 346.0,376.2 341.3,375.3 340.5,374.7 339.9,373.2 340.2,374.7 341.0,375.5 345.2,376.5Z" fill="#1415ff" stroke="#1415ff" stroke-width="0.3" fill-rule="evenodd"/>
<path d="M339.7,405.9 340.2,404.4 341.1,403.6 343.3,403.0 346.1,402.6 347.2,402.8 348.0,403.3 349.0,405.9 348.8,404.3 348.2,403.1 347.4,402.5 346.2,402.3 343.2,402.7 340.9,403.4 340.0,404.4 339.7,405.9ZM345.1,376.8 346.9,376.9 348.0,376.3 348.7,375.1 349.0,373.2 348.0,375.9 347.2,376.4 346.1,376.6 343.3,376.2 341.1,375.6 340.2,374.8 339.7,373.2 340.0,374.8 340.8,375.7 345.1,376.8Z" fill="#142fff" stroke="#142fff" stroke-width="0.3" fill-rule="evenodd"/>
<path d="M339.6,405.9 340.1,404.2 341.0,403.3 343.3,402.6 346.2,402.3 347.4,402.5 348.2,403.1 349.2,405.9 349.0,404.2 348.3,402.8 347.4,402.1 346.2,401.9 343.0,402.3 340.8,403.1 339.9,404.1 339.6,405.9ZM344.9,377.2 346.9,377.2 348.1,376.7 348.9,375.3 349.2,373.2 348.2,376.1 347.4,376.7 346.2,376.9 343.3,376.6 341.0,375.9 340.1,375.0 339.6,373.2 339.8,374.9 340.6,376.0 342.1,376.6 344.9,377.2Z" fill="#1445ff" stroke="#1445ff" stroke-width="0.3" fill-rule="evenodd"/>
<path d="M339.4,405.9 339.9,404.1 340.8,403.1 343.0,402.3 346.2,401.9 347.4,402.1 348.3,402.8 348.9,404.1 349.2,405.9 349.4,405.9 349.2,404.1 348.5,402.6 347.6,401.8 346.3,401.5 343.0,402.0 340.6,402.8 339.8,403.9 339.4,405.9ZM345.6,377.6 347.2,377.6 348.3,376.9 349.1,375.3 349.4,373.2 349.2,373.2 348.9,375.1 348.3,376.4 347.4,377.1 346.2,377.3 343.0,376.8 340.8,376.1 339.9,375.1 339.4,373.2 339.7,375.2 340.5,376.3 342.4,377.0 345.6,377.6Z" fill="#145eff" stroke="#145eff" stroke-width="0.3" fill-rule="evenodd"/>
<path d="M339.3,405.9 339.8,403.9 340.6,402.8 343.0,402.0 346.3,401.5 347.5,401.7 348.4,402.5 349.1,404.0 349.4,405.9 349.6,405.9 349.4,403.9 348.7,402.2 347.7,401.4 346.4,401.1 342.9,401.7 340.5,402.5 339.6,403.8 339.3,405.9ZM346.1,378.0 347.6,377.8 348.6,377.1 349.3,375.4 349.6,373.2 349.4,373.2 349.1,375.2 348.4,376.7 347.5,377.4 346.3,377.6 343.0,377.2 340.6,376.4 339.8,375.3 339.3,373.2 339.6,375.4 340.5,376.7 342.7,377.5 346.1,378.0Z" fill="#1478ff" stroke="#1478ff" stroke-width="0.3" fill-rule="evenodd"/>
<path d="M339.2,405.9 339.7,403.7 340.5,402.5 342.9,401.7 346.4,401.1 347.7,401.4 348.6,402.1 349.3,403.8 349.6,405.9 349.9,405.9 349.7,403.8 348.9,401.9 348.0,401.0 346.7,400.7 343.2,401.2 340.5,402.2 339.6,403.5 339.2,405.9ZM346.0,378.5 347.6,378.4 348.7,377.5 349.6,375.5 349.9,373.2 349.6,373.2 349.3,375.4 348.6,377.1 347.7,377.8 346.4,378.0 342.9,377.5 340.5,376.7 339.7,375.5 339.2,373.2 339.5,375.6 340.4,376.9 342.5,377.8 346.0,378.5Z" fill="#148eff" stroke="#148eff" stroke-width="0.3" fill-rule="evenodd"/>
<path d="M339.1,405.9 339.6,403.4 340.5,402.2 343.2,401.2 346.7,400.7 347.9,400.9 348.8,401.8 349.7,403.8 349.9,405.9 350.3,405.9 350.0,403.7 349.1,401.5 348.1,400.4 346.8,400.1 343.2,400.8 340.4,401.9 339.4,403.3 339.1,405.9ZM346.3,379.0 347.9,378.9 349.0,377.9 350.0,375.6 350.3,373.2 349.9,373.2 349.7,375.4 348.8,377.4 347.9,378.3 346.7,378.5 343.2,378.0 340.5,377.0 339.6,375.7 339.1,373.2 339.4,375.7 340.3,377.2 342.5,378.2 346.3,379.0Z" fill="#14a8ff" stroke="#14a8ff" stroke-width="0.3" fill-rule="evenodd"/>
<path d="M338.9,405.9 339.4,403.3 340.4,401.9 343.2,400.8 346.8,400.1 348.0,400.4 348.9,401.2 349.9,403.3 350.3,405.9 351.1,405.9 350.6,403.8 349.4,400.9 348.4,399.8 347.1,399.4 343.4,400.3 340.3,401.6 339.3,403.1 338.9,405.9ZM346.3,379.7 348.0,379.6 349.1,378.7 350.5,375.7 351.1,373.2 350.3,373.2 349.9,375.9 348.9,378.0 348.0,378.8 346.8,379.0 343.2,378.4 340.4,377.3 339.4,375.9 338.9,373.2 339.3,376.0 340.2,377.5 342.4,378.6 346.3,379.7Z" fill="#14beff" stroke="#14beff" stroke-width="0.3" fill-rule="evenodd"/>
<path d="M338.7,405.9 339.2,402.9 340.2,401.2 342.2,400.1 346.9,398.4 348.2,398.2 349.1,398.6 351.0,401.8 352.0,402.6 353.3,402.6 354.4,401.6 354.6,400.3 354.2,399.1 350.9,396.9 350.2,395.3 350.8,393.4 353.8,391.4 354.6,390.0 354.6,388.9 354.1,388.1 351.0,386.0 350.2,384.2 350.3,383.3 350.8,382.4 353.6,380.8 354.4,379.7 354.5,377.9 353.4,376.7 352.4,376.4 351.7,376.7 349.1,380.5 348.3,381.0 347.2,380.9 342.5,379.2 340.2,378.0 339.2,376.3 338.7,373.2 339.0,376.2 339.9,378.1 344.6,381.2 346.0,382.8 346.5,384.7 346.8,389.6 346.5,394.5 346.0,396.4 344.6,398.0 339.9,401.1 339.0,403.0 338.7,405.9Z" fill="#8ff7f9" stroke="#8ff7f9" stroke-width="0.3" fill-rule="evenodd"/>
<path d="M338.6,405.9 339.1,402.8 339.9,401.1 344.6,398.0 346.0,396.4 346.5,394.5 346.8,389.7 346.5,384.7 346.0,382.8 344.6,381.2 339.9,378.1 339.0,376.2 338.7,373.2 338.8,375.5 339.4,377.9 340.2,379.0 342.9,381.3 343.8,383.0 344.1,385.3 344.1,391.7 344.0,394.8 343.7,396.6 342.8,398.0 339.6,401.1 338.9,403.1 338.6,405.9Z" fill="#60ffe5" stroke="#60ffe5" stroke-width="0.3" fill-rule="evenodd"/>
<path d="M338.5,405.9 338.9,402.9 339.6,401.1 342.8,398.0 343.7,396.6 344.0,394.8 344.1,391.7 344.1,385.2 343.8,382.9 342.9,381.3 339.5,378.0 338.8,376.0 338.6,373.2 338.6,375.4 339.2,377.9 341.6,381.4 342.2,383.0 342.4,392.2 342.1,396.6 339.2,401.1 338.7,403.3 338.5,405.9Z" fill="#43ffc9" stroke="#43ffc9" stroke-width="0.3" fill-rule="evenodd"/>
<path d="M338.3,405.9 339.2,401.1 342.1,396.7 342.4,392.3 342.2,383.0 341.6,381.4 339.2,378.0 338.7,375.9 338.5,373.2 338.4,374.9 338.8,377.6 341.0,383.2 341.2,392.5 340.9,396.6 338.9,401.4 338.3,405.9Z" fill="#55ffb7" stroke="#55ffb7" stroke-width="0.3" fill-rule="evenodd"/>
<path d="M338.2,405.9 339.0,401.2 340.9,396.7 341.2,392.6 341.0,383.2 338.9,377.7 338.3,373.2 338.5,377.1 340.1,383.3 340.2,393.0 340.0,396.6 338.5,401.9 338.2,405.9Z" fill="#6affa2" stroke="#6affa2" stroke-width="0.3" fill-rule="evenodd"/>
<path d="M338.0,405.9 338.6,401.5 340.0,396.8 340.2,393.1 340.1,383.2 338.5,377.3 338.2,373.2 338.1,376.2 339.3,383.3 339.3,393.4 339.2,396.9 338.2,402.5 338.0,405.9Z" fill="#7cff90" stroke="#7cff90" stroke-width="0.3" fill-rule="evenodd"/>
<path d="M337.8,405.9 338.0,405.9 338.2,402.5 339.2,397.2 339.3,393.6 339.3,383.0 338.2,376.6 338.0,373.2 337.8,373.2 337.8,375.3 338.6,383.0 338.6,394.4 337.8,405.9Z" fill="#90ff7c" stroke="#90ff7c" stroke-width="0.3" fill-rule="evenodd"/>
<path d="M337.5,405.9 337.8,405.9 338.6,394.5 338.6,382.6 337.8,373.2 337.5,373.2 337.5,373.7 338.0,382.2 338.0,395.6 337.5,405.9Z" fill="#a2ff6a" stroke="#a2ff6a" stroke-width="0.3" fill-rule="evenodd"/>
<path d="M337.2,405.9 337.5,405.9 338.0,395.8 338.0,382.2 337.5,373.2 337.2,373.2 337.5,389.6 337.2,405.9Z" fill="#b7ff55" stroke="#b7ff55" stroke-width="0.3" fill-rule="evenodd"/>
<path d="M336.8,405.9 337.2,405.9 337.5,397.3 337.2,373.2 336.8,373.2 336.8,405.9Z" fill="#c9ff43" stroke="#c9ff43" stroke-width="0.3" fill-rule="evenodd"/>
<path d="M336.6,405.9 336.8,405.9 337.0,398.2 336.8,373.2 336.6,373.2 336.6,405.9Z" fill="#ddff2e" stroke="#ddff2e" stroke-width="0.3" fill-rule="evenodd"/>
<path d="M344.2,405.9 344.7,405.4 345.8,405.2 346.5,405.4 346.8,405.9M346.8,373.2 346.5,373.8 345.8,374.0 344.7,373.7 344.2,373.2" stroke="#000080" stroke-width="0.7" fill="none" opacity="0.5"/>
<path d="M342.5,405.9 343.4,405.1 345.8,404.5 347.0,404.9 347.5,405.9M347.5,373.2 347.0,374.3 345.8,374.6 343.4,374.1 342.5,373.2" stroke="#00009b" stroke-width="0.7" fill="none" opacity="0.5"/>
<path d="M341.4,405.9 341.7,405.3 342.6,404.8 345.9,404.1 347.3,404.5 347.8,405.9M347.8,373.2 347.3,374.7 345.9,375.1 342.6,374.4 341.7,373.9 341.4,373.2" stroke="#0000bb" stroke-width="0.7" fill="none" opacity="0.5"/>
<path d="M340.8,405.9 341.1,405.1 342.0,404.5 345.9,403.7 347.5,404.2 348.1,405.9M348.1,373.2 347.5,375.0 345.9,375.5 342.0,374.7 341.1,374.1 340.8,373.2" stroke="#0000d6" stroke-width="0.7" fill="none" opacity="0.5"/>
<path d="M340.4,405.9 340.6,404.9 341.5,404.2 346.0,403.3 347.1,403.5 347.7,404.0 348.3,405.9M348.3,373.2 347.7,375.2 347.1,375.7 346.0,375.9 341.5,375.0 340.6,374.2 340.4,373.2" stroke="#0000f6" stroke-width="0.7" fill="none" opacity="0.5"/>
<path d="M340.1,405.9 340.4,404.6 341.3,403.9 346.0,403.0 347.1,403.1 347.9,403.6 348.4,404.6 348.6,405.9M348.6,373.2 348.4,374.5 347.9,375.6 347.1,376.1 346.0,376.2 341.3,375.3 340.4,374.5 340.1,373.2" stroke="#0000ff" stroke-width="0.7" fill="none" opacity="0.5"/>
<path d="M339.9,405.9 340.2,404.5 341.1,403.6 343.3,403.0 346.1,402.6 347.3,402.8 348.1,403.4 348.6,404.5 348.8,405.9M348.8,373.2 348.6,374.7 348.1,375.8 347.3,376.4 346.1,376.6 343.3,376.2 341.1,375.6 340.2,374.7 339.9,373.2" stroke="#001cff" stroke-width="0.7" fill="none" opacity="0.5"/>
<path d="M339.7,405.9 340.0,404.4 340.9,403.4 343.2,402.7 346.2,402.3 347.4,402.5 348.2,403.1 348.8,404.3 349.0,405.9M349.0,373.2 348.8,374.9 348.2,376.1 347.4,376.7 346.2,376.9 343.2,376.5 340.9,375.8 340.0,374.8 339.7,373.2" stroke="#0034ff" stroke-width="0.7" fill="none" opacity="0.5"/>
<path d="M339.6,405.9 339.9,404.1 340.8,403.1 343.0,402.3 346.2,401.9 347.4,402.1 348.3,402.8 349.0,404.2 349.2,405.9M349.2,373.2 349.0,375.0 348.3,376.4 347.4,377.1 346.2,377.3 343.0,376.8 340.8,376.1 339.9,375.1 339.6,373.2" stroke="#0050ff" stroke-width="0.7" fill="none" opacity="0.5"/>
<path d="M339.4,405.9 339.8,403.9 340.6,402.8 343.0,402.0 346.3,401.5 347.6,401.8 348.5,402.6 349.2,404.1 349.4,405.9M349.4,373.2 349.2,375.1 348.5,376.6 347.6,377.4 346.3,377.6 343.0,377.2 340.6,376.4 339.8,375.3 339.4,373.2" stroke="#006cff" stroke-width="0.7" fill="none" opacity="0.5"/>
<path d="M339.3,405.9 339.6,403.8 340.5,402.5 342.9,401.7 346.4,401.1 347.7,401.4 348.7,402.2 349.4,403.9 349.6,405.9M349.6,373.2 349.4,375.3 348.7,376.9 347.7,377.8 346.4,378.0 342.9,377.5 340.5,376.7 339.6,375.4 339.3,373.2" stroke="#0084ff" stroke-width="0.7" fill="none" opacity="0.5"/>
<path d="M339.2,405.9 339.6,403.5 340.5,402.2 343.2,401.2 346.7,400.7 348.0,401.0 348.9,401.9 349.7,403.8 349.9,405.9M349.9,373.2 349.7,375.4 348.9,377.3 348.0,378.2 346.7,378.5 343.2,378.0 340.5,377.0 339.6,375.7 339.2,373.2" stroke="#00a0ff" stroke-width="0.7" fill="none" opacity="0.5"/>
<path d="M339.1,405.9 339.4,403.3 340.4,401.9 343.2,400.8 346.8,400.1 348.1,400.4 349.1,401.5 350.0,403.7 350.3,405.9M350.3,373.2 350.0,375.5 349.1,377.7 348.1,378.8 346.8,379.0 343.2,378.4 340.4,377.3 339.4,375.9 339.1,373.2" stroke="#00b8ff" stroke-width="0.7" fill="none" opacity="0.5"/>
<path d="M338.9,405.9 339.3,403.1 340.3,401.6 343.4,400.3 347.1,399.4 348.4,399.8 349.4,400.9 350.6,403.8 351.1,405.9M351.1,373.2 350.6,375.4 349.4,378.3 348.4,379.4 347.1,379.8 343.4,378.9 340.3,377.6 339.3,376.1 338.9,373.2" stroke="#00d4ff" stroke-width="0.7" fill="none" opacity="0.5"/>
<path d="M338.8,405.9 339.2,403.0 340.2,401.2 342.2,400.1 347.0,398.3 348.2,398.2 349.1,398.6 351.0,401.8 351.9,402.6 353.0,402.7 354.0,402.1 354.6,400.8 354.3,399.3 353.5,398.4 350.8,396.8 350.2,395.0 350.9,393.3 354.1,391.2 354.6,389.6 354.1,388.0 350.9,385.9 350.2,384.1 350.8,382.4 353.5,380.8 354.3,379.9 354.6,378.4 354.0,377.1 353.0,376.5 351.9,376.6 351.0,377.4 349.1,380.6 348.2,381.0 347.0,380.8 342.2,379.0 340.2,378.0 339.2,376.2 338.8,373.2" stroke="#06ecf1" stroke-width="0.7" fill="none" opacity="0.5"/>
<path d="M338.7,405.9 339.0,403.0 339.9,401.1 344.6,398.0 346.0,396.4 346.5,394.5 346.8,389.6 346.5,384.7 346.0,382.8 344.6,381.2 339.9,378.1 339.0,376.2 338.7,373.2" stroke="#1cffdb" stroke-width="0.7" fill="none" opacity="0.5"/>
<path d="M338.6,405.9 338.8,403.2 339.5,401.2 342.8,398.0 343.7,396.4 344.1,394.3 344.1,389.6 344.1,384.9 343.7,382.8 342.8,381.2 339.5,378.0 338.8,376.0 338.6,373.2" stroke="#33ffc4" stroke-width="0.7" fill="none" opacity="0.5"/>
<path d="M338.5,405.9 338.7,403.3 339.2,401.1 341.6,397.8 342.2,396.4 342.4,389.6 342.2,382.8 341.6,381.4 339.2,378.0 338.7,375.9 338.5,373.2" stroke="#46ffb1" stroke-width="0.7" fill="none" opacity="0.5"/>
<path d="M338.3,405.9 338.9,401.5 341.0,396.2 341.2,389.6 341.0,382.9 338.9,377.7 338.3,373.2" stroke="#5dff9a" stroke-width="0.7" fill="none" opacity="0.5"/>
<path d="M338.2,405.9 338.5,401.9 340.0,396.2 340.2,389.6 340.0,382.9 338.5,377.3 338.2,373.2" stroke="#70ff87" stroke-width="0.7" fill="none" opacity="0.5"/>
<path d="M338.0,405.9 338.2,402.5 339.3,396.5 339.4,389.6 339.3,382.7 338.2,376.7 338.0,373.2" stroke="#87ff70" stroke-width="0.7" fill="none" opacity="0.5"/>
<path d="M337.8,405.9 338.6,396.9 338.6,389.6 338.6,382.3 337.8,373.2" stroke="#9aff5d" stroke-width="0.7" fill="none" opacity="0.5"/>
<path d="M337.5,405.9 338.0,397.6 338.0,389.6 338.0,381.6 337.5,373.2" stroke="#b1ff46" stroke-width="0.7" fill="none" opacity="0.5"/>
<path d="M337.2,405.9 337.5,389.6 337.2,373.2" stroke="#c4ff33" stroke-width="0.7" fill="none" opacity="0.5"/>
<path d="M336.8,405.9 336.8,373.2" stroke="#dbff1c" stroke-width="0.7" fill="none" opacity="0.5"/>
<rect x="550.3" y="373.2" width="4.9" height="32.7" fill="#b9d3d6"/></g>
<g>
<line x1="702.2" y1="108" x2="702.2" y2="700" stroke="#c4c4c4" stroke-width="1"/>
<line x1="721.7" y1="108" x2="721.7" y2="700" stroke="#d4d4d4" stroke-width="1"/>
<rect x="702.9" y="110.7" width="18" height="7" fill="#7a000a"/>
<rect x="702.9" y="125.6" width="18" height="7" fill="#8d020c"/>
<rect x="702.9" y="140.5" width="18" height="7" fill="#a1040e"/>
<rect x="702.9" y="155.4" width="18" height="7" fill="#b00610"/>
<rect x="702.9" y="170.3" width="18" height="7" fill="#c00812"/>
<rect x="702.9" y="185.2" width="18" height="7" fill="#c81511"/>
<rect x="702.9" y="200.1" width="18" height="7" fill="#d02311"/>
<rect x="702.9" y="215" width="18" height="7" fill="#d83010"/>
<rect x="702.9" y="229.9" width="18" height="7" fill="#db4410"/>
<rect x="702.9" y="244.8" width="18" height="7" fill="#dd5710"/>
<rect x="702.9" y="259.7" width="18" height="7" fill="#e06a10"/>
<rect x="702.9" y="274.6" width="18" height="7" fill="#e48518"/>
<rect x="702.9" y="289.5" width="18" height="7" fill="#e8a020"/>
<rect x="702.9" y="304.4" width="18" height="7" fill="#e8b820"/>
<rect x="702.9" y="319.3" width="18" height="7" fill="#e8d020"/>
<rect x="702.9" y="334.2" width="18" height="7" fill="#e8e010"/>
<rect x="702.9" y="349.1" width="18" height="7" fill="#d8e830"/>
<rect x="702.9" y="364" width="18" height="7" fill="#bae33b"/>
<rect x="702.9" y="378.9" width="18" height="7" fill="#9ddd45"/>
<rect x="702.9" y="393.8" width="18" height="7" fill="#80d850"/>
<rect x="702.9" y="408.7" width="18" height="7" fill="#6bd570"/>
<rect x="702.9" y="423.6" width="18" height="7" fill="#55d390"/>
<rect x="702.9" y="438.5" width="18" height="7" fill="#40d0b0"/>
<rect x="702.9" y="453.4" width="18" height="7" fill="#30d0d0"/>
<rect x="702.9" y="468.3" width="18" height="7" fill="#20c8d0"/>
<rect x="702.9" y="483.2" width="18" height="7" fill="#1bb5d0"/>
<rect x="702.9" y="498.1" width="18" height="7" fill="#15a2d0"/>
<rect x="702.9" y="513" width="18" height="7" fill="#1090d0"/>
<rect x="702.9" y="527.9" width="18" height="7" fill="#107acb"/>
<rect x="702.9" y="542.8" width="18" height="7" fill="#1065c5"/>
<rect x="702.9" y="557.7" width="18" height="7" fill="#1050c0"/>
<rect x="702.9" y="572.6" width="18" height="7" fill="#1030c8"/>
<rect x="702.9" y="587.5" width="18" height="7" fill="#0d20c0"/>
<rect x="702.9" y="602.4" width="18" height="7" fill="#0a10b8"/>
<rect x="702.9" y="617.3" width="18" height="7" fill="#0a0eb0"/>
<rect x="702.9" y="632.2" width="18" height="7" fill="#0a0ca8"/>
<rect x="702.9" y="647.1" width="18" height="7" fill="#0a0aa0"/>
<rect x="702.9" y="662" width="18" height="7" fill="#0a0a90"/>
<rect x="702.9" y="676.9" width="18" height="7" fill="#0a0a80"/>
<rect x="702.9" y="691.8" width="18" height="7" fill="#0a0a70"/>
</g>
<defs><clipPath id="cbclip"><rect x="680" y="55" width="91.5" height="680"/></clipPath></defs>
<g clip-path="url(#cbclip)" font-family="'Liberation Serif','Times New Roman',serif" font-size="20.2" fill="#1a1a1a" stroke="#1a1a1a" stroke-width="0.5">
<text x="731.2" y="135.9">5.45</text>
<text x="731.2" y="165.57">5.02</text>
<text x="731.2" y="195.24">4.6</text>
<text x="731.2" y="224.91">4.17</text>
<text x="731.2" y="254.58">3.75</text>
<text x="731.2" y="284.25">3.32</text>
<text x="731.2" y="313.92">2.9</text>
<text x="731.2" y="343.59">2.47</text>
<text x="731.2" y="373.26">2.05</text>
<text x="731.2" y="402.93">1.62</text>
<text x="731.2" y="432.6">1.2</text>
<text x="731.2" y="462.27">0.77</text>
<text x="731.2" y="491.94">0.35</text>
<text x="731.2" y="521.61">-0.08</text>
<text x="732.8" y="551.28">-0.5</text>
<text x="731.2" y="580.95">-0.93</text>
<text x="731.2" y="610.62">-1.35</text>
<text x="731.2" y="640.29">-1.78</text>
<text x="732.8" y="669.96">-2.2</text>
<text x="731.2" y="699.63">-2.63</text>
<path d="M687.4 79.5 L693.9 67.3 L700.3 79.5 Z" fill="#111"/>
<text x="704.6" y="81.5">5.66×10</text>
<text x="721.8" y="102.5">×10<tspan font-size="11" dy="-8">4</tspan></text>
<path d="M688 713.5 L700.3 713.5 L694.2 725.5 Z" fill="#111"/>
<text x="702.3" y="726">-2.63×10</text>
</g>
<g stroke="#f1f1f1" stroke-width="1.6">
<line x1="1046.9" y1="52.1" x2="1046.9" y2="724.8"/>
<line x1="1194.6" y1="52.1" x2="1194.6" y2="724.8"/>
<line x1="1342.3" y1="52.1" x2="1342.3" y2="724.8"/>
<line x1="1490" y1="52.1" x2="1490" y2="724.8"/>
<line x1="1637.7" y1="52.1" x2="1637.7" y2="724.8"/>
<line x1="1032.3" y1="719.48" x2="1740.4" y2="719.48"/>
<line x1="1032.3" y1="652.09" x2="1740.4" y2="652.09"/>
<line x1="1032.3" y1="584.7" x2="1740.4" y2="584.7"/>
<line x1="1032.3" y1="517.31" x2="1740.4" y2="517.31"/>
<line x1="1032.3" y1="449.92" x2="1740.4" y2="449.92"/>
<line x1="1032.3" y1="382.53" x2="1740.4" y2="382.53"/>
<line x1="1032.3" y1="315.14" x2="1740.4" y2="315.14"/>
<line x1="1032.3" y1="247.75" x2="1740.4" y2="247.75"/>
<line x1="1032.3" y1="180.36" x2="1740.4" y2="180.36"/>
<line x1="1032.3" y1="112.97" x2="1740.4" y2="112.97"/>
</g>
<path d="M1046.9 584.5 L1065.77 616.8 L1084.65 643 L1103.52 667.1 L1122.39 687.2 L1141.26 701 L1160.14 709.2 L1179.01 711.2 L1197.88 707 L1216.76 696.4 L1235.63 678.5 L1254.5 643.5 L1273.37 587.5 L1292.25 521.5 L1311.12 410 L1329.99 296 L1348.86 180 L1367.74 94 L1386.61 65.4 L1405.48 94 L1424.36 180 L1443.23 296 L1462.1 410 L1480.97 521.5 L1499.85 587.5 L1518.72 643.5 L1537.59 678.5 L1556.47 696.4 L1575.34 707 L1594.21 711.2 L1613.08 709.2 L1631.96 701 L1650.83 687.2 L1669.7 667.1 L1688.57 643 L1707.45 616.8 L1726.32 584.5" fill="none" stroke="#8b8db4" stroke-width="1.9" stroke-linejoin="round"/>
<g stroke="#111" fill="none">
<rect x="1032.3" y="52.1" width="708.1" height="672.7" stroke-width="2.4"/>
<line x1="1031.1" y1="725.0999999999999" x2="1741.6000000000001" y2="725.0999999999999" stroke-width="3"/>
<line x1="1046.9" y1="724.8" x2="1046.9" y2="716.8" stroke-width="2"/>
<line x1="1046.9" y1="52.1" x2="1046.9" y2="60.1" stroke-width="2"/>
<line x1="1194.6" y1="724.8" x2="1194.6" y2="716.8" stroke-width="2"/>
<line x1="1194.6" y1="52.1" x2="1194.6" y2="60.1" stroke-width="2"/>
<line x1="1342.3" y1="724.8" x2="1342.3" y2="716.8" stroke-width="2"/>
<line x1="1342.3" y1="52.1" x2="1342.3" y2="60.1" stroke-width="2"/>
<line x1="1490" y1="724.8" x2="1490" y2="716.8" stroke-width="2"/>
<line x1="1490" y1="52.1" x2="1490" y2="60.1" stroke-width="2"/>
<line x1="1637.7" y1="724.8" x2="1637.7" y2="716.8" stroke-width="2"/>
<line x1="1637.7" y1="52.1" x2="1637.7" y2="60.1" stroke-width="2"/>
<line x1="1032.3" y1="719.48" x2="1040.3" y2="719.48" stroke-width="2"/>
<line x1="1740.4" y1="719.48" x2="1732.4" y2="719.48" stroke-width="2"/>
<line x1="1032.3" y1="652.09" x2="1040.3" y2="652.09" stroke-width="2"/>
<line x1="1740.4" y1="652.09" x2="1732.4" y2="652.09" stroke-width="2"/>
<line x1="1032.3" y1="584.7" x2="1040.3" y2="584.7" stroke-width="2"/>
<line x1="1740.4" y1="584.7" x2="1732.4" y2="584.7" stroke-width="2"/>
<line x1="1032.3" y1="517.31" x2="1040.3" y2="517.31" stroke-width="2"/>
<line x1="1740.4" y1="517.31" x2="1732.4" y2="517.31" stroke-width="2"/>
<line x1="1032.3" y1="449.92" x2="1040.3" y2="449.92" stroke-width="2"/>
<line x1="1740.4" y1="449.92" x2="1732.4" y2="449.92" stroke-width="2"/>
<line x1="1032.3" y1="382.53" x2="1040.3" y2="382.53" stroke-width="2"/>
<line x1="1740.4" y1="382.53" x2="1732.4" y2="382.53" stroke-width="2"/>
<line x1="1032.3" y1="315.14" x2="1040.3" y2="315.14" stroke-width="2"/>
<line x1="1740.4" y1="315.14" x2="1732.4" y2="315.14" stroke-width="2"/>
<line x1="1032.3" y1="247.75" x2="1040.3" y2="247.75" stroke-width="2"/>
<line x1="1740.4" y1="247.75" x2="1732.4" y2="247.75" stroke-width="2"/>
<line x1="1032.3" y1="180.36" x2="1040.3" y2="180.36" stroke-width="2"/>
<line x1="1740.4" y1="180.36" x2="1732.4" y2="180.36" stroke-width="2"/>
<line x1="1032.3" y1="112.97" x2="1040.3" y2="112.97" stroke-width="2"/>
<line x1="1740.4" y1="112.97" x2="1732.4" y2="112.97" stroke-width="2"/>
</g>
<g font-family="'Liberation Serif','Times New Roman',serif" font-size="20.2" fill="#1a1a1a" stroke="#1a1a1a" stroke-width="0.5">
<text x="1048.1" y="749.1" text-anchor="middle">0</text>
<text x="1195.8" y="749.1" text-anchor="middle">5</text>
<text x="1343.5" y="749.1" text-anchor="middle">10</text>
<text x="1491.2" y="749.1" text-anchor="middle">15</text>
<text x="1638.9" y="749.1" text-anchor="middle">20</text>
<text x="1027.3" y="726.68" text-anchor="end">-10,000</text>
<text x="1027.3" y="659.29" text-anchor="end">-5000</text>
<text x="1027.3" y="591.9" text-anchor="end">0</text>
<text x="1027.3" y="524.51" text-anchor="end">5000</text>
<text x="1027.3" y="457.12" text-anchor="end">10,000</text>
<text x="1027.3" y="389.73" text-anchor="end">15,000</text>
<text x="1027.3" y="322.34" text-anchor="end">20,000</text>
<text x="1027.3" y="254.95" text-anchor="end">25,000</text>
<text x="1027.3" y="187.56" text-anchor="end">30,000</text>
<text x="1027.3" y="120.17" text-anchor="end">35,000</text>
</g>
<text font-family="'Liberation Serif','Times New Roman',serif" font-size="41.1" x="1398" y="796.9" text-anchor="middle" fill="#111" stroke="#111" stroke-width="0.9">Diameter (mm)</text>
<text font-family="'Liberation Serif','Times New Roman',serif" font-size="41.1" transform="translate(951.6 383) rotate(-90)" text-anchor="middle" fill="#111" stroke="#111" stroke-width="0.9">Spraying pressure (Pa)</text>
<text font-family="'Liberation Serif','Times New Roman',serif" font-size="48" letter-spacing="1.6" x="940.6" y="46" fill="#111" stroke="#111" stroke-width="0.8">(b)</text>
</svg></body></html>
